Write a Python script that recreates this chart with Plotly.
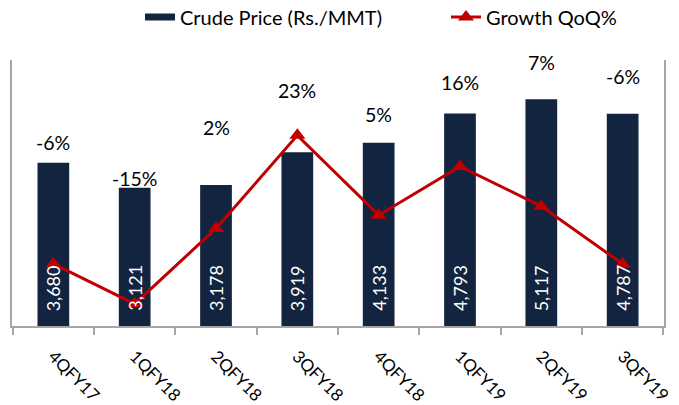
import plotly.graph_objects as go

quarters = ["4QFY17", "1QFY18", "2QFY18", "3QFY18", "4QFY18", "1QFY19", "2QFY19", "3QFY19"]
crude_price = [3680, 3121, 3178, 3919, 4133, 4793, 5117, 4787]
growth_qoq = [-6, -15, 2, 23, 5, 16, 7, -6]
growth_labels = ["-6%", "-15%", "2%", "23%", "5%", "16%", "7%", "-6%"]
# label heights (in price-axis units) where the % labels sit
label_heights = [4130, 3330, 4470, 5320, 4760, 5500, 5950, 5620]

NAVY = "#12243F"
RED = "#C00000"
FONT = "Lato"

fig = go.Figure()
fig.add_trace(go.Bar(
    x=quarters, y=crude_price, name="Crude Price (Rs./MMT)",
    marker=dict(color=NAVY, line=dict(width=0)),
    width=0.39, showlegend=False,
))
# legend proxy for the bar series (wide flat swatch)
fig.add_trace(go.Scatter(
    x=[None], y=[None], name="Crude Price (Rs./MMT)", mode="lines",
    line=dict(color=NAVY, width=7),
))
fig.add_trace(go.Scatter(
    x=quarters, y=growth_qoq, name="Growth QoQ%", yaxis="y2",
    mode="lines+markers",
    line=dict(color=RED, width=3),
    marker=dict(symbol="triangle-up", size=14, color=RED),
))

for q, v in zip(quarters, crude_price):
    fig.add_annotation(x=q, y=0, text=f"{v:,}", showarrow=False, textangle=-90,
                       yanchor="bottom", yshift=13, xref="x", yref="y",
                       font=dict(size=18, color="white", family=FONT))

for q, lab, h in zip(quarters, growth_labels, label_heights):
    fig.add_annotation(x=q, y=h, text=lab, showarrow=False,
                       font=dict(size=19.5, color="#000", family=FONT),
                       xref="x", yref="y")

fig.update_layout(
    width=679, height=405,
    margin=dict(l=12, r=15, t=60, b=79, autoexpand=False),
    paper_bgcolor="white", plot_bgcolor="white",
    font=dict(family=FONT, color="#000"),
    showlegend=True,
    legend=dict(orientation="h", x=140/679, xref="container", xanchor="left",
                y=1 - 17/405, yref="container", yanchor="middle",
                font=dict(size=20, family=FONT), entrywidth=261,
                traceorder="normal", tracegroupgap=0),
    bargap=0.6,
    xaxis=dict(showline=True, linecolor="#A6A6A6", linewidth=1.5,
               ticks="outside", tickson="boundaries", ticklen=7,
               tickcolor="#A6A6A6", tickwidth=1.5, automargin=False,
               tickangle=45, tickfont=dict(size=17, family=FONT),
               ticklabelstandoff=12, showgrid=False),
    yaxis=dict(range=[0, 6000], showline=True, linecolor="#A6A6A6", linewidth=1.5,
               showticklabels=False, ticks="", showgrid=False, zeroline=False,
               automargin=False),
    yaxis2=dict(range=[-20, 40], overlaying="y", side="right", showline=True,
                linecolor="#A6A6A6", linewidth=1.5, showticklabels=False,
                ticks="", showgrid=False, zeroline=False, automargin=False),
)

fig.write_html("out.html", config={"displayModeBar": False},
               post_script="document.body.style.margin='0';document.body.style.overflow='hidden';")
